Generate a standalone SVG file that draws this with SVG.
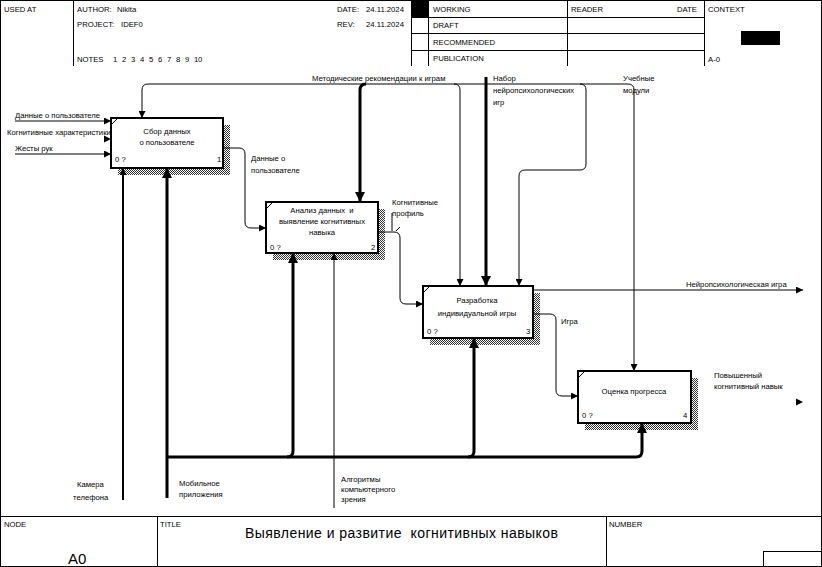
<svg xmlns="http://www.w3.org/2000/svg" width="822" height="567" viewBox="0 0 822 567">
<style>
.t{font-family:"Liberation Sans",Arial,sans-serif;font-size:7.7px;fill:#000}
.m{text-anchor:middle}
.big{font-size:14px}
.a0{font-size:15px}
.fr{fill:none;stroke:#000;stroke-width:1}
.box{fill:#fff;stroke:#000;stroke-width:2}
.sh{fill:url(#hatch)}
.c1{fill:none;stroke:#000;stroke-width:1}
.c2{fill:none;stroke:#000;stroke-width:2}
.c3{fill:none;stroke:#000;stroke-width:3}
</style>
<defs>
<pattern id="hatch" width="2" height="2" patternUnits="userSpaceOnUse">
<rect x="0" y="0" width="1" height="1" fill="#333"/>
<rect x="1" y="1" width="1" height="1" fill="#333"/>
</pattern>
<marker id="as" markerUnits="userSpaceOnUse" markerWidth="8" markerHeight="7" refX="7" refY="3.5" orient="auto">
<path d="M0,0 L7,3.5 L0,7 z" fill="#000"/>
</marker>
<marker id="ab" markerUnits="userSpaceOnUse" markerWidth="11" markerHeight="10" refX="10" refY="5" orient="auto">
<path d="M0,0 L10,5 L0,10 z" fill="#000"/>
</marker>
</defs>
<rect x="0" y="0" width="822" height="567" fill="#fff"/>
<g id="frame">
<rect class="fr" x="0.5" y="0.5" width="821" height="566"/>
<line class="fr" x1="73.5" y1="0" x2="73.5" y2="66"/>
<line class="fr" x1="411.5" y1="0" x2="411.5" y2="66"/>
<line class="fr" x1="428.5" y1="0" x2="428.5" y2="66"/>
<line class="fr" x1="567.5" y1="0" x2="567.5" y2="66"/>
<line class="fr" x1="704.5" y1="0" x2="704.5" y2="66"/>
<line class="fr" x1="411" y1="17.5" x2="704" y2="17.5"/>
<line class="fr" x1="411" y1="33.5" x2="704" y2="33.5"/>
<line class="fr" x1="411" y1="50.5" x2="704" y2="50.5"/>
<rect x="411" y="0" width="17" height="17" fill="#000"/>
<rect x="741" y="31" width="39" height="14" fill="#000"/>
<line class="fr" x1="0" y1="516.5" x2="822" y2="516.5"/>
<line class="fr" x1="157.5" y1="516" x2="157.5" y2="567"/>
<line class="fr" x1="606.5" y1="516" x2="606.5" y2="567"/>
<rect class="fr" x="763.5" y="551.5" width="58" height="15"/>
<text class="t" x="4" y="12">USED AT</text>
<text class="t" x="77" y="12">AUTHOR:</text>
<text class="t" x="117" y="12">Nikita</text>
<text class="t" x="77" y="27">PROJECT:</text>
<text class="t" x="121" y="27">IDEF0</text>
<text class="t" x="77" y="62">NOTES</text>
<text class="t" x="113 122 131 140 149 158 167 176 185 194 198" y="62">12345678910</text>
<text class="t" x="337" y="12">DATE:</text>
<text class="t" x="366" y="12">24.11.2024</text>
<text class="t" x="337" y="27">REV:</text>
<text class="t" x="366" y="27">24.11.2024</text>
<text class="t" x="433" y="12">WORKING</text>
<text class="t" x="433" y="28">DRAFT</text>
<text class="t" x="433" y="45">RECOMMENDED</text>
<text class="t" x="433" y="61">PUBLICATION</text>
<text class="t" x="571" y="12">READER</text>
<text class="t" x="677" y="12">DATE</text>
<text class="t" x="708" y="12">CONTEXT</text>
<text class="t" x="708" y="62">A-0</text>
<text class="t" x="4" y="527">NODE</text>
<text class="t a0" x="68" y="564">A0</text>
<text class="t" x="160" y="527">TITLE</text>
<text class="t big" x="245" y="538" textLength="313" xml:space="preserve">Выявление и развитие  когнитивных навыков</text>
<text class="t" x="609" y="527">NUMBER</text>
</g>
<g id="node1">
<path class="sh" d="M223,125 H230 V175 H118 V168 H223 Z"/>
<rect class="box" x="111" y="118" width="112" height="50"/>
<line class="c1" x1="112" y1="124" x2="117" y2="119"/>
<text class="t m" x="167" y="134">Сбор данных</text>
<text class="t m" x="167" y="145">о пользователе</text>
<text class="t" x="115" y="162">0 ?</text>
<text class="t" x="217" y="162">1</text>
</g>
<g id="node2">
<path class="sh" d="M378,209 H385 V260 H273 V253 H378 Z"/>
<rect class="box" x="266" y="202" width="112" height="51"/>
<line class="c1" x1="267" y1="208" x2="272" y2="203"/>
<text class="t m" x="322" y="213" xml:space="preserve">Анализ данных  и</text>
<text class="t m" x="322" y="224">выявление когнитивных</text>
<text class="t m" x="322" y="235">навыка</text>
<text class="t" x="270" y="250">0 ?</text>
<text class="t" x="371" y="250">2</text>
</g>
<g id="node3">
<path class="sh" d="M533,293 H540 V345 H430 V338 H533 Z"/>
<rect class="box" x="423" y="286" width="110" height="52"/>
<line class="c1" x1="424" y1="292" x2="429" y2="287"/>
<text class="t m" x="477" y="303">Разработка</text>
<text class="t m" x="477" y="316">индивидуальной игры</text>
<text class="t" x="427" y="334">0 ?</text>
<text class="t" x="526" y="334">3</text>
</g>
<g id="node4">
<path class="sh" d="M691,378 H698 V430 H585 V423 H691 Z"/>
<rect class="box" x="578" y="371" width="113" height="52"/>
<line class="c1" x1="579" y1="377" x2="584" y2="372"/>
<text class="t m" x="634" y="394">Оценка прогресса</text>
<text class="t" x="582" y="418">0 ?</text>
<text class="t" x="683" y="418">4</text>
</g>
<g id="connectors">
<path class="c1" d="M15,121 H111" marker-end="url(#as)"/>
<path d="M104,135.5 L111,139 L104,142.5 z" fill="#000"/>
<path class="c1" d="M15,154 H111" marker-end="url(#as)"/>
<path class="c1" d="M390,84 H148 Q142,84 142,90 V118" marker-end="url(#as)"/>
<path class="c1" d="M390,84 H628 Q634,84 634,90 V371" marker-end="url(#as)"/>
<path class="c3" d="M366,84 Q360,84 360,90 V202" marker-end="url(#ab)"/>
<path class="c1" d="M454,84 Q460,84 460,90 V286" marker-end="url(#as)"/>
<path class="c3" d="M486,77 V286" marker-end="url(#ab)"/>
<path class="c1" d="M580,84 Q586,84 586,90 V164 Q586,170 580,170 H525 Q519,170 519,176 V286" marker-end="url(#as)"/>
<path class="c1" d="M223,148 H239 Q245,148 245,154 V222 Q245,228 251,228 H266" marker-end="url(#as)"/>
<path class="c1" d="M378,232 H394 Q400,232 400,238 V298 Q400,304 406,304 H423" marker-end="url(#as)"/>
<path class="c1" d="M392,213 V231 M396,231 L400,227"/>
<path class="c1" d="M533,290 H803" marker-end="url(#as)"/>
<path class="c1" d="M533,314 H550 Q556,314 556,320 V390 Q556,396 562,396 H578" marker-end="url(#as)"/>
<path d="M796,398.5 L803,402 L796,405.5 z" fill="#000"/>
<path class="c2" d="M123,500 V168" marker-end="url(#as)"/>
<path class="c3" d="M167,498 V168" marker-end="url(#ab)"/>
<path class="c3" d="M167,457 H636 Q642,457 642,451 V423" marker-end="url(#ab)"/>
<path class="c3" d="M287,457 Q293,457 293,451 V253" marker-end="url(#ab)"/>
<path class="c3" d="M468,457 Q474,457 474,451 V338" marker-end="url(#ab)"/>
<path class="c1" d="M334,508 V253" marker-end="url(#as)"/>
</g>
<g id="labels">
<text class="t" x="15" y="118">Данные о пользователе</text>
<text class="t" x="7" y="135">Когнитивные характеристики</text>
<text class="t" x="15" y="151">Жесты рук</text>
<text class="t" x="312" y="81">Методические рекомендации к играм</text>
<text class="t" x="493" y="81">Набор</text>
<text class="t" x="493" y="93">нейропсихологических</text>
<text class="t" x="493" y="105">игр</text>
<text class="t" x="623" y="81">Учебные</text>
<text class="t" x="623" y="93">модули</text>
<text class="t" x="251" y="161">Данные о</text>
<text class="t" x="251" y="173">пользователе</text>
<text class="t" x="392" y="205">Когнитивные</text>
<text class="t" x="392" y="216">профиль</text>
<text class="t" x="686" y="287">Нейропсихологическая игра</text>
<text class="t" x="561" y="324">Игра</text>
<text class="t" x="714" y="378">Повышенный</text>
<text class="t" x="714" y="389">когнитивный навык</text>
<text class="t" x="77" y="487">Камера</text>
<text class="t" x="73" y="500">телефона</text>
<text class="t" x="179" y="486">Мобильное</text>
<text class="t" x="179" y="497">приложения</text>
<text class="t" x="341" y="482">Алгоритмы</text>
<text class="t" x="341" y="492">компьютерного</text>
<text class="t" x="341" y="502">зрения</text>
</g>
</svg>
